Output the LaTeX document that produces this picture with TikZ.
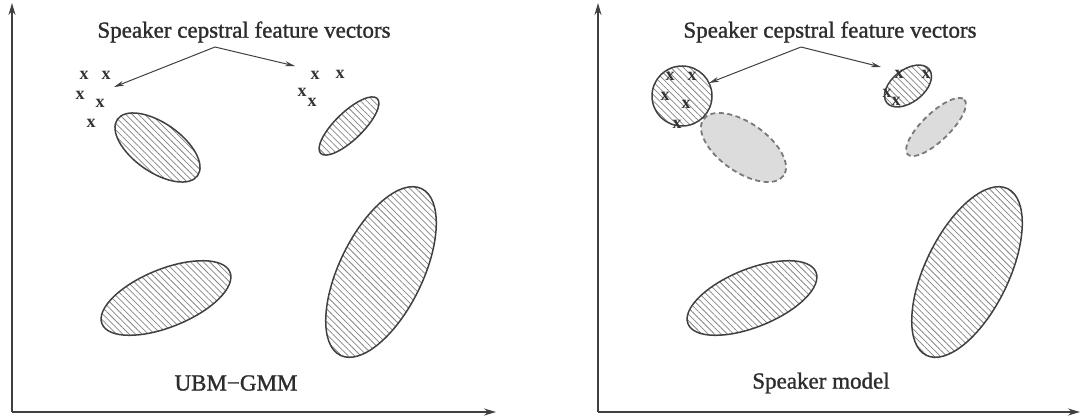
\documentclass[tikz,border=0pt]{standalone}
\usepackage{fontspec}
\setmainfont{Liberation Serif}
\newfontfamily\heavyserif[FakeBold=1.2]{Liberation Serif}
\usetikzlibrary{patterns.meta,arrows.meta}
\definecolor{ink}{HTML}{404040}
\definecolor{hatchc}{HTML}{858585}
\definecolor{lightfill}{HTML}{DCDCDC}
\definecolor{dashc}{HTML}{7A7A7A}
\tikzset{
 axis/.style={draw=ink, line width=1.8pt, -{Stealth[length=12pt,width=7pt]}},
 pointer/.style={draw=ink, line width=1pt, -{Stealth[length=10pt,width=5pt]}},
 hatched/.style={draw=ink, line width=1.5pt, pattern={Lines[angle=-45,distance=4.5pt,line width=0.75pt]}, pattern color=hatchc},
 shade/.style={draw=dashc, line width=1.8pt, dash pattern=on 5pt off 3.5pt, fill=lightfill},
 lbl/.style={font=\fontsize{23}{27}\heavyserif, text=ink!70!black, inner sep=0pt},
 xm/.style={font=\fontsize{18}{20}\selectfont\bfseries, text=ink!80!black, inner sep=0pt},
}
\begin{document}
\begin{tikzpicture}[x=1pt,y=-1pt]
\useasboundingbox (0,0) rectangle (1081,415);
% ---------------- left panel ----------------
\coordinate (O1) at (12,412);
\coordinate (Y1) at (12,3);
\coordinate (X1) at (496,412);
\draw[axis] (O1) -- (Y1);
\draw[axis] (O1) -- (X1);
\draw[hatched, rotate around={-35:(157.5,147.5)}] (157.5,147.5) ellipse [x radius=49, y radius=24.5];
\draw[hatched, rotate around={44:(349,126)}] (349,126) ellipse [x radius=39.4, y radius=13.8];
\draw[hatched, rotate around={22:(166,298)}] (166,298) ellipse [x radius=69, y radius=29];
\draw[hatched, rotate around={64:(381,272)}] (381,272) ellipse [x radius=92.7, y radius=41.7];
\node[xm] (x11) at (84,75) {x};
\node[xm] (x12) at (106,75) {x};
\node[xm] (x13) at (80,95) {x};
\node[xm] (x14) at (100,103) {x};
\node[xm] (x15) at (91,123) {x};
\node[xm] (x16) at (315,75) {x};
\node[xm] (x17) at (340,74) {x};
\node[xm] (x18) at (302,92) {x};
\node[xm] (x19) at (312,102) {x};
\node[lbl] (t1) at (244,32) {Speaker cepstral feature vectors};
\coordinate (s1) at (215,47);
\coordinate (a1) at (114,87);
\coordinate (b1) at (295,66);
\draw[pointer] (s1) -- (a1);
\draw[pointer] (s1) -- (b1);
\node[lbl] (m1) at (236,383) {UBM\textminus GMM};
% ---------------- right panel ----------------
\coordinate (O2) at (598,412);
\coordinate (Y2) at (598,3);
\coordinate (X2) at (1080,412);
\draw[axis] (O2) -- (Y2);
\draw[axis] (O2) -- (X2);
\draw[shade, rotate around={-35:(743.5,147.5)}] (743.5,147.5) ellipse [x radius=49, y radius=24.5];
\draw[shade, rotate around={44:(936,127)}] (936,127) ellipse [x radius=39.4, y radius=13.8];
\draw[hatched, rotate around={22:(752,298)}] (752,298) ellipse [x radius=69, y radius=29];
\draw[hatched, rotate around={64:(967,272)}] (967,272) ellipse [x radius=92.7, y radius=41.7];
\draw[hatched] (682,96) circle [radius=30];
\draw[hatched, rotate around={38:(908,86)}] (908,86) ellipse [x radius=27, y radius=16.2];
\node[xm] (x21) at (670,76) {x};
\node[xm] (x22) at (692,76) {x};
\node[xm] (x23) at (665,96) {x};
\node[xm] (x24) at (686,104) {x};
\node[xm] (x25) at (677,124) {x};
\node[xm] (x26) at (899,74) {x};
\node[xm] (x27) at (926,74) {x};
\node[xm] (x28) at (887,93) {x};
\node[xm] (x29) at (896,101) {x};
\node[lbl] (t2) at (830,32) {Speaker cepstral feature vectors};
\coordinate (s2) at (801,47);
\coordinate (a2) at (709,83);
\coordinate (b2) at (881,67);
\draw[pointer] (s2) -- (a2);
\draw[pointer] (s2) -- (b2);
\node[lbl] (m2) at (821,383) {Speaker model};
\end{tikzpicture}
\end{document}
